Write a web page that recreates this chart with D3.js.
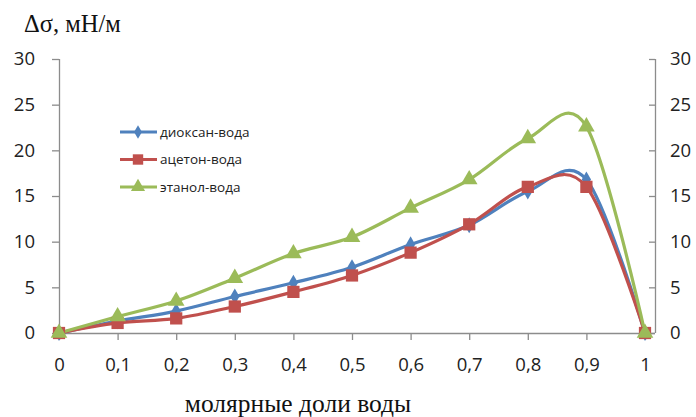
<!DOCTYPE html>
<html>
<head>
<meta charset="utf-8">
<script src="https://cdn.jsdelivr.net/npm/d3@7"></script>
<style>
  html, body { margin: 0; padding: 0; background: #fff; }
  svg { display: block; }
</style>
</head>
<body>
<svg id="chart" width="696" height="417"></svg>
<script>
// Mole fraction of water
const xValues = [0, 0.1, 0.2, 0.3, 0.4, 0.5, 0.6, 0.7, 0.8, 0.9, 1];
// Surface tension difference, mN/m
const dioxane = [0, 1.3, 2.4, 4.0, 5.5, 7.2, 9.7, 11.8, 15.5, 16.8, 0];
const acetone = [0, 1.1, 1.6, 2.9, 4.5, 6.3, 8.8, 11.9, 16.0, 16.0, 0];
const ethanol = [0, 1.8, 3.5, 6.0, 8.7, 10.5, 13.7, 16.8, 21.3, 22.6, 0];
const seriesNames = ["диоксан-вода", "ацетон-вода", "этанол-вода"];
const xTickLabels = ["0", "0,1", "0,2", "0,3", "0,4", "0,5", "0,6", "0,7", "0,8", "0,9", "1"];
const yTicks = [0, 5, 10, 15, 20, 25, 30];

const series = [
  { name: seriesNames[0], values: dioxane, color: "#4f81bd", marker: "diamond" },
  { name: seriesNames[1], values: acetone, color: "#c0504d", marker: "square" },
  { name: seriesNames[2], values: ethanol, color: "#9bbb59", marker: "triangle" }
];

const svg = d3.select("#chart");
const axisColor = "#8c8c8c";
const tickFont = "'Open Sans', 'DejaVu Sans', sans-serif";
const serifFont = "'Liberation Serif', 'Times New Roman', serif";

const x = d3.scaleLinear().domain([0, 1]).range([59, 645]);
const y = d3.scaleLinear().domain([0, 30]).range([333, 59]);
const xRight = 655;

// Left axis
const gL = svg.append("g").attr("transform", `translate(${x(0)},0)`)
  .call(d3.axisLeft(y).tickValues(yTicks).tickSize(7).tickPadding(17).tickFormat(d3.format("d")));
// Right axis (ticks drawn inward, labels outside)
const gR = svg.append("g").attr("transform", `translate(${xRight},0)`)
  .call(d3.axisRight(y).tickValues(yTicks).tickSize(0).tickPadding(15).tickFormat(d3.format("d")));
gR.selectAll(".tick").append("line").attr("x1", -6).attr("x2", 0).attr("stroke", axisColor);
// Bottom axis
const gB = svg.append("g").attr("transform", `translate(0,${y(0)})`)
  .call(d3.axisBottom(x).tickValues(xValues).tickSize(7).tickPadding(18)
    .tickFormat((d, i) => xTickLabels[i]));

[gL, gR, gB].forEach(g => {
  g.select(".domain").attr("stroke", axisColor).attr("stroke-width", 1.3);
  g.selectAll(".tick line").attr("stroke", axisColor).attr("stroke-width", 1.3);
  g.selectAll(".tick text").attr("fill", "#222").style("font-family", tickFont).style("font-size", "18.5px");
});
gB.select(".domain").attr("d", `M${x(0)},0.5H${xRight}`);
gL.select(".domain").attr("d", `M0.5,${y(30)}V${y(0)}`);
gR.select(".domain").attr("d", `M0.5,${y(30)}V${y(0)}`);

// Lines
const line = d3.line()
  .x((d, i) => x(xValues[i]))
  .y(d => y(d))
  .curve(d3.curveCatmullRom.alpha(0));

const symbolFor = (m, scale) => d3.symbol()
  .type(m === "diamond" ? d3.symbolDiamond : m === "square" ? d3.symbolSquare : d3.symbolTriangle)
  .size((m === "diamond" ? 75 : m === "square" ? 150 : 120) * scale)();

series.forEach(s => {
  svg.append("path")
    .datum(s.values)
    .attr("fill", "none")
    .attr("stroke", s.color)
    .attr("stroke-width", 3.2)
    .attr("stroke-linejoin", "round")
    .attr("d", line);
});
series.forEach(s => {
  svg.append("g").selectAll("path")
    .data(s.values)
    .join("path")
    .attr("transform", (d, i) => `translate(${x(xValues[i])},${y(d)})`)
    .attr("d", symbolFor(s.marker, 1))
    .attr("fill", s.color);
});

// Legend
const legend = svg.append("g");
series.forEach((s, i) => {
  const ly = 132 + i * 27.5;
  legend.append("line").attr("x1", 120).attr("x2", 157).attr("y1", ly).attr("y2", ly)
    .attr("stroke", s.color).attr("stroke-width", 3.2);
  legend.append("path").attr("transform", `translate(138,${ly})`)
    .attr("d", symbolFor(s.marker, 0.72))
    .attr("fill", s.color);
  legend.append("text").attr("x", 160).attr("y", ly).attr("dy", "0.36em")
    .style("font-family", tickFont).style("font-size", "13.5px").attr("fill", "#222")
    .text(s.name);
});

// Axis titles
svg.append("text").attr("x", 24).attr("y", 32)
  .style("font-family", serifFont).style("font-size", "24.5px")
  .attr("fill", "#111").text("Δσ, мН/м");
svg.append("text").attr("x", 298).attr("y", 412).attr("text-anchor", "middle")
  .style("font-family", serifFont).style("font-size", "25.5px")
  .attr("fill", "#111").text("молярные доли воды");
</script>
</body>
</html>
